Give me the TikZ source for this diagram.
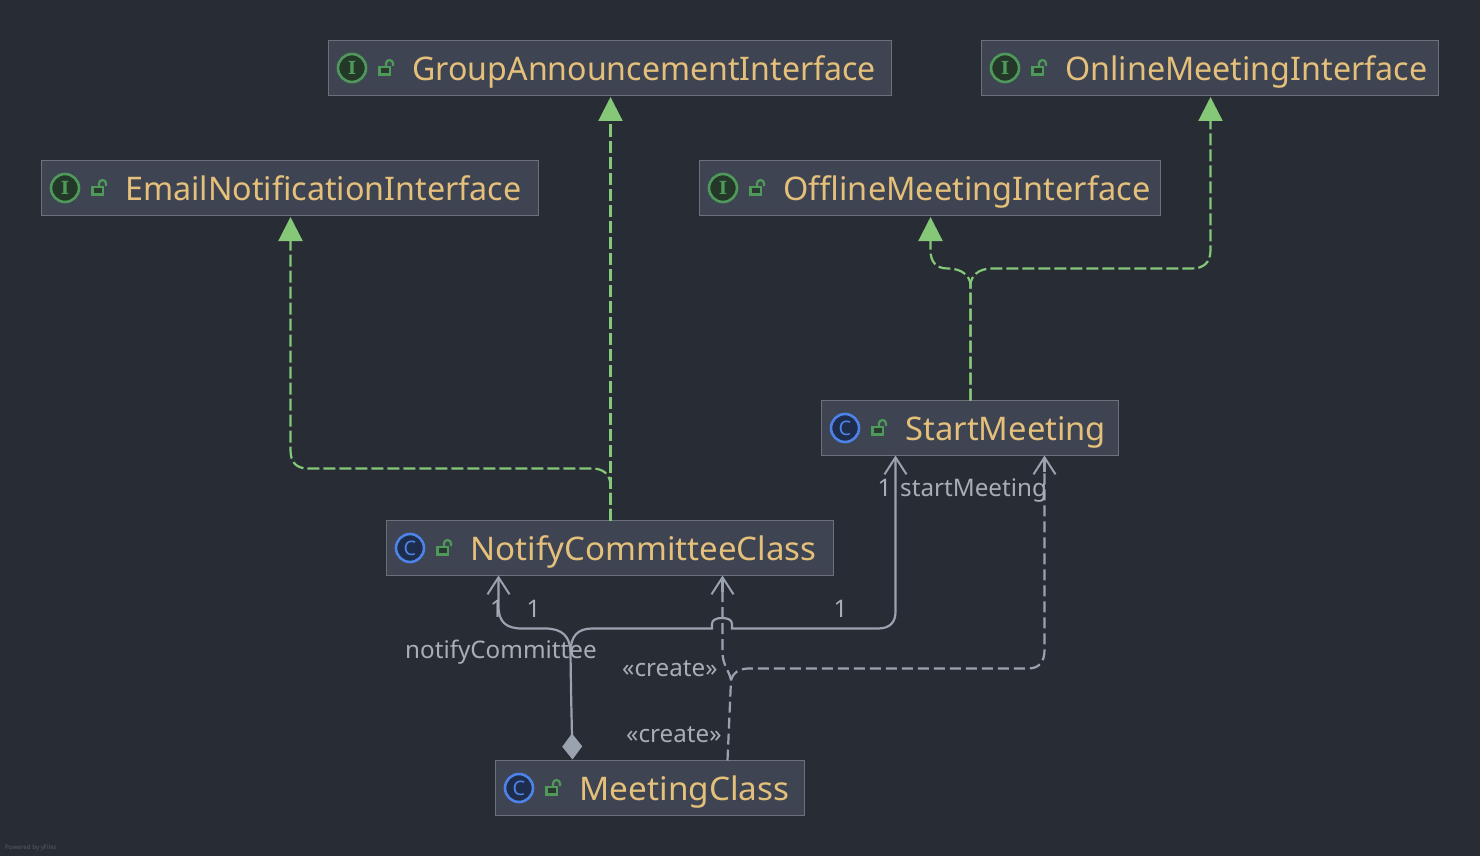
\documentclass[tikz,border=0pt]{standalone}
\usepackage{fontspec}
\usepackage{graphicx}
\setmainfont{Noto Sans}
\newfontfamily\slabfont{DejaVu Serif}
\usetikzlibrary{arrows.meta}
\definecolor{bgc}{HTML}{282C34}
\definecolor{boxc}{HTML}{3E4451}
\definecolor{edgec}{HTML}{6C7078}
\definecolor{titlec}{HTML}{E5C07B}
\definecolor{implc}{HTML}{84C878}
\definecolor{assocc}{HTML}{9AA1AF}
\definecolor{labelc}{HTML}{A9ADB5}
\definecolor{bluec}{HTML}{4D82E8}
\definecolor{bluef}{HTML}{1F2D4D}
\definecolor{greenc}{HTML}{4F9A5B}
\definecolor{greenf}{HTML}{24382A}
\definecolor{lockf}{HTML}{2A3A30}
\newcommand{\glyphI}{{\slabfont\bfseries\fontsize{18}{20}\selectfont I}}
\newcommand{\glyphC}{{\fontsize{20}{22}\selectfont C}}
\tikzset{
  umlbox/.style={draw=edgec,fill=boxc,line width=1.2pt,anchor=north west,inner sep=0pt,outer sep=0pt},
  titletext/.style={text=titlec,font=\fontsize{32.5}{36}\selectfont,anchor=base west,inner sep=0pt,outer sep=0pt},
  lbl/.style={text=labelc,font=\fontsize{24.2}{28}\selectfont,inner sep=0pt},
  impl/.style={draw=implc,line width=2.2pt,dash pattern=on 12pt off 4pt},
  impltip/.style={-{Triangle[length=24pt,width=24pt]},color=implc,line width=2.2pt},
  assoc/.style={draw=assocc,line width=2.2pt},
  dep/.style={draw=assocc,line width=2.2pt,dash pattern=on 11pt off 5pt},
  iconring/.style={circle,line width=2.6pt,minimum size=28pt,inner sep=0pt},
  iconI/.style={iconring,draw=greenc,fill=greenf,text=greenc},
  iconC/.style={iconring,draw=bluec,fill=bluef,text=bluec},
}
% name, x1, y1, x2, y2, I or C, title, title width
\newcommand{\umlnode}[8]{%
  \node[umlbox,minimum width=#4pt-#2pt,minimum height=#5pt-#3pt] (#1) at (#2,#3) {};
  \node[icon#6] (#1icon) at ([xshift=23.5pt]#1.west) {\csname glyph#6\endcsname};
  \draw[greenc,line width=2.4pt,fill=lockf] ([xshift=51pt,yshift=1pt]#1.west) rectangle ++(10.5,7.5);
  \draw[greenc,line width=2.2pt] ([xshift=57.5pt,yshift=1pt]#1.west) -- ++(0,-3.5) arc[start angle=180,end angle=0,radius=3.5pt] -- ++(0,2.5);
  \node[titletext] (#1title) at ([xshift=84pt,yshift=-12.4pt]#1.west) {\resizebox{#8pt}{\height}{#7}};
}
\begin{document}
\begin{tikzpicture}[x=1pt,y=-1pt]
\useasboundingbox (0,0) rectangle (1480,856);
\fill[bgc] (0,0) rectangle (1480,856);

\umlnode{group}{328.5}{40.5}{891.5}{95.5}{I}{GroupAnnouncementInterface}{463.5}
\umlnode{online}{981.5}{40.5}{1438.5}{95.5}{I}{OnlineMeetingInterface}{362}
\umlnode{email}{41.5}{160.5}{538.5}{215.5}{I}{EmailNotificationInterface}{396}
\umlnode{offline}{699.5}{160.5}{1160.5}{215.5}{I}{OfflineMeetingInterface}{367}
\umlnode{start}{821.5}{400.5}{1118.5}{455.5}{C}{StartMeeting}{200.5}
\umlnode{notify}{386.5}{520.5}{833.5}{575.5}{C}{NotifyCommitteeClass}{346}
\umlnode{meeting}{495.5}{760.5}{804.5}{815.5}{C}{MeetingClass}{210}

% realisations
\draw[impl] ([xshift=224pt]notify.north west) -- (610.5,486)
  .. controls (610.5,474) and (603,468.5) .. (592,468.5) -- (308,468.5)
  .. controls (296,468.5) and (290.5,462) .. (290.5,450) -- (290.5,236);
\draw[impl] ([xshift=224pt]notify.north west) -- (610.5,115);
\draw[impl] ([xshift=149pt]start.north west) -- (970.5,284)
  .. controls (969.5,276) and (962,268.5) .. (948,268.5)
  .. controls (936,268.5) and (930.5,262) .. (930.5,250) -- (930.5,236);
\draw[impl] ([xshift=149pt]start.north west) -- (970.5,284)
  .. controls (971.5,276) and (978,268.5) .. (992,268.5) -- (1192,268.5)
  .. controls (1204,268.5) and (1210.5,262) .. (1210.5,250) -- (1210.5,115);
\draw[impltip] (290.5,238) -- ([xshift=249pt,yshift=-1.5pt]email.south west);
\draw[impltip] (610.5,118) -- ([xshift=282pt,yshift=-1.5pt]group.south west);
\draw[impltip] (930.5,238) -- ([xshift=231pt,yshift=-1.5pt]offline.south west);
\draw[impltip] (1210.5,118) -- ([xshift=229pt,yshift=-1.5pt]online.south west);

% associations
\draw[assoc,{Diamond[length=26pt,width=20pt,fill=assocc]}-{Straight Barb[length=17pt,width=22pt,line width=2pt]}]
  ([xshift=77pt,yshift=1pt]meeting.north west) -- (571,690) -- (570.5,652)
  .. controls (570,636) and (562,628.5) .. (545,628.5) -- (522,628.5)
  .. controls (506,628.5) and (498.5,622) .. (498.5,606) -- ([xshift=112pt]notify.south west);
\draw[assoc,{Straight Barb[length=17pt,width=22pt,line width=2pt]}-]
  ([xshift=74pt]start.south west) -- (895.5,612)
  .. controls (895.5,622) and (890,628.5) .. (878,628.5) -- (732,628.5) -- (732,624)
  .. controls (732,620) and (728,618) .. (722,618)
  .. controls (716,618) and (712,620) .. (712,624) -- (712,628.5) -- (592,628.5)
  .. controls (578,628.5) and (570.5,636) .. (570.5,652);

% dependencies
\draw[dep] ([xshift=232pt]meeting.north west) -- (731,680)
  .. controls (729,670) and (722.5,665) .. (722.5,652) -- (722.5,590);
\draw[assoc,{Straight Barb[length=17pt,width=22pt,line width=2pt]}-] ([xshift=336pt]notify.south west) -- ++(0,16);
\draw[dep] (731,680) .. controls (733,673) and (738,669) .. (748,668.5) -- (1028,668.5)
  .. controls (1039,668.5) and (1044.5,662) .. (1044.5,650) -- (1044.5,470);
\draw[assoc,{Straight Barb[length=17pt,width=22pt,line width=2pt]}-] ([xshift=223pt]start.south west) -- ++(0,16);

% labels
\node[lbl] (l1) at (497,608.5) {1};
\node[lbl] (l2) at (533.5,608.5) {1};
\node[lbl] (l3) at (840.5,608.5) {1};
\node[lbl] (l4) at (884.5,487.5) {1};
\node[lbl,anchor=base west] (l5) at (900,496) {startMeeting};
\node[lbl,anchor=base west] (l6) at (405,658) {notifyCommittee};
\node[lbl,anchor=base west] (l7) at (622,676) {«create»};
\node[lbl,anchor=base west] (l8) at (626,742) {«create»};
\node[text=edgec!70!bgc,font=\fontsize{6.2}{7}\selectfont,anchor=west,inner sep=0pt] (yf) at (5,848) {Powered by yFiles};
\end{tikzpicture}
\end{document}
